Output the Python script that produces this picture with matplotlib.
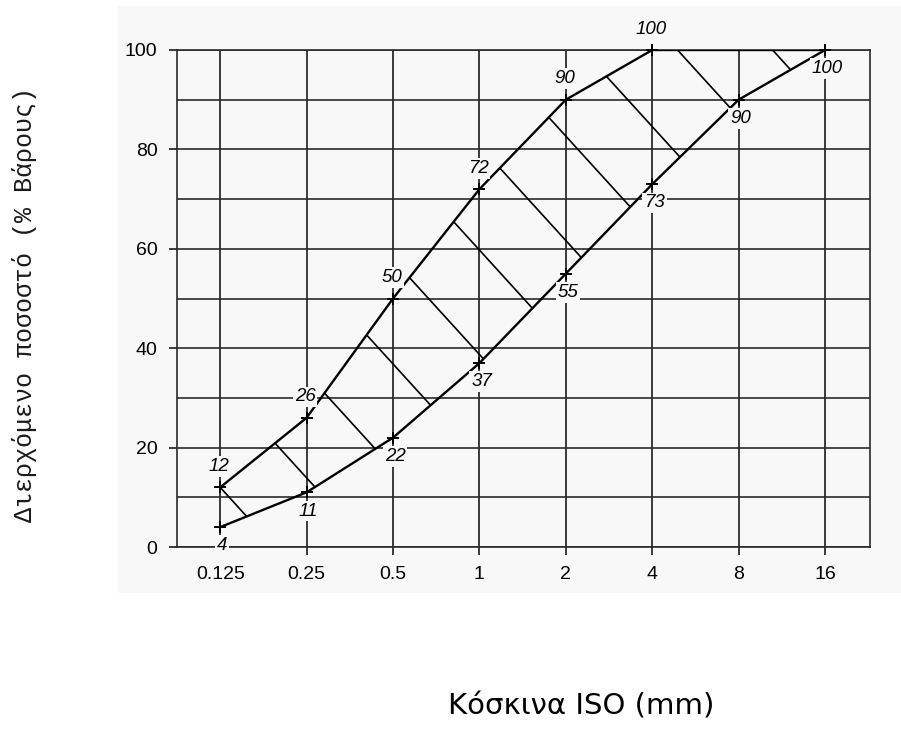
import numpy as np
import matplotlib.pyplot as plt
from matplotlib.patches import Rectangle

# Grading envelope (sieve size in mm, % passing)
sieves = [0.125, 0.25, 0.5, 1, 2, 4, 8, 16]
upper = [12, 26, 50, 72, 90, 100, 100, 100]
lower = [4, 11, 22, 37, 55, 73, 90, 100]
upper_labelled = 6  # upper limit labels/markers only up to 4 mm
tick_labels = ['0.125', '0.25', '0.5', '1', '2', '4', '8', '16']

paper = '#f8f8f8'

fig = plt.figure(figsize=(9.01, 7.38), dpi=100)
fig.patch.set_facecolor('white')
fig.patches.append(Rectangle((118 / 901, 1 - 593 / 738), 1 - 118 / 901, (593 - 6) / 738,
                             transform=fig.transFigure, facecolor=paper, edgecolor='none', zorder=-10))

ax = fig.add_axes([177 / 901, 1 - 547 / 738, (870 - 177) / 901, (547 - 50) / 738])
ax.set_facecolor(paper)
ax.set_xscale('log', base=2)
ax.set_xlim(2 ** -3.5, 2 ** 4.52)
ax.set_ylim(0, 100)

ax.set_xticks(sieves)
ax.set_xticklabels(tick_labels)
ax.xaxis.set_minor_locator(plt.NullLocator())
ax.set_yticks(range(0, 101, 20))
ax.set_yticks(range(0, 101, 10), minor=True)
ax.tick_params(axis='both', which='major', direction='out', length=6, width=1.2,
               pad=8, labelsize=14, color='#1a1a1a')
ax.tick_params(axis='y', which='minor', length=0)
for lab in ax.get_xticklabels() + ax.get_yticklabels():
    lab.set_fontfamily('Liberation Sans')

ax.grid(True, which='both', axis='y', color='#2a2a2a', linewidth=1.2)
ax.grid(True, which='major', axis='x', color='#1a1a1a', linewidth=1.2)
ax.set_axisbelow(True)
for s in ax.spines.values():
    s.set_linewidth(1.2)
    s.set_color('#2a2a2a')

# envelope curves
ax.plot(sieves, upper, color='black', linewidth=1.7, zorder=3)
ax.plot(sieves, lower, color='black', linewidth=1.7, zorder=3)
ax.plot(sieves[:upper_labelled], upper[:upper_labelled], linestyle='none', marker='+',
        markersize=8, markeredgewidth=1.4, color='black', zorder=4, clip_on=False)
ax.plot(sieves, lower, linestyle='none', marker='+', markersize=8, markeredgewidth=1.4,
        color='black', zorder=4, clip_on=False)

# hatching between the limits
band = ax.fill_between(sieves, lower, upper, facecolor='none', edgecolor='none')
band_path = band.get_paths()[0]
hatch_step = 1.10   # spacing in log2 units
hatch_slope = -19.1  # % per log2 unit
for k in range(-3, 15):
    t0 = -3 + hatch_step * k
    tt = np.array([t0 - 6, t0 + 6])
    yy = 12 + hatch_slope * (tt - t0)
    ln, = ax.plot(2.0 ** tt, yy, color='black', linewidth=1.2, zorder=2)
    ln.set_clip_path(band_path, ax.transData)

# point labels
lab_kw = dict(textcoords='offset points', ha='center', va='center', fontsize=13.5,
              fontstyle='italic', fontfamily='Liberation Sans', zorder=5,
              bbox=dict(boxstyle='square,pad=0.1', facecolor=paper, edgecolor='none'))
for x, y in zip(sieves[:upper_labelled], upper[:upper_labelled]):
    ax.annotate(str(y), (x, y), xytext=(-1, 15), **lab_kw)
for x, y in zip(sieves, lower):
    ax.annotate(str(y), (x, y), xytext=(1.5, -13.5), **lab_kw)

fig.text(25 / 901, 1 - 305 / 738, 'Διερχόμενο ποσοστό (% Βάρους)', rotation=90,
         ha='center', va='center', fontsize=18, fontfamily='Liberation Mono', color='#1a1a1a')
fig.text(581 / 901, 1 - 706 / 738, 'Κόσκινα ISO (mm)', ha='center', va='center',
         fontsize=21, fontfamily='DejaVu Sans')

fig.savefig('out.png', dpi=100)
